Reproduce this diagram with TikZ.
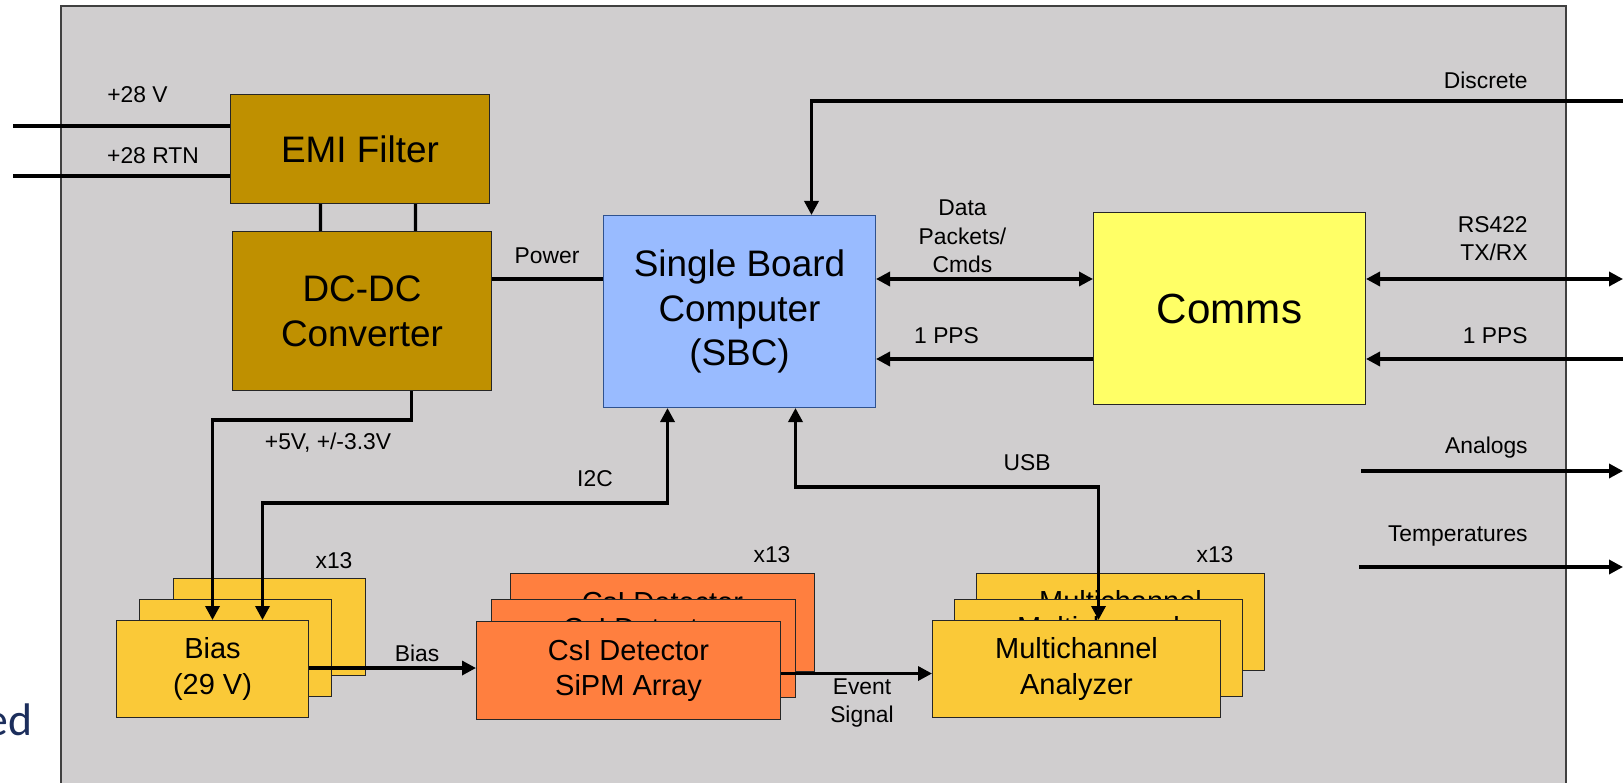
\documentclass[tikz,border=0pt]{standalone}
\usepackage{fontspec}
\setmainfont{Liberation Sans}
\newfontfamily\slidefont{Carlito}
\usetikzlibrary{arrows.meta,positioning}

\definecolor{panelgray}{RGB}{208,206,207}
\definecolor{emigold}{RGB}{191,144,0}
\definecolor{sbcblue}{RGB}{153,187,255}
\definecolor{sbcedge}{RGB}{47,82,143}
\definecolor{commsyellow}{RGB}{255,255,102}
\definecolor{biasyellow}{RGB}{250,201,56}
\definecolor{csiorange}{RGB}{255,127,63}
\definecolor{slideblue}{RGB}{28,46,92}

\begin{document}
\begin{tikzpicture}[x=0.02cm, y=-0.02cm]
    % Styles
    \tikzstyle{block} = [rectangle, draw=black!85, line width=0.6pt, inner sep=0pt, align=center, anchor=north west]
    \tikzstyle{big_text} = [font=\fontsize{21}{25.5}\selectfont]
    \tikzstyle{mid_text} = [font=\fontsize{16.5}{20}\selectfont]
    \tikzstyle{label_text} = [inner sep=0pt, align=center, font=\fontsize{13}{16.2}\selectfont]
    \tikzstyle{power_block} = [block, big_text, fill=emigold, minimum width=5.18cm]
    \tikzstyle{bias_block} = [block, mid_text, fill=biasyellow, minimum width=3.84cm, minimum height=1.94cm]
    \tikzstyle{csi_block} = [block, mid_text, fill=csiorange, minimum width=6.08cm, minimum height=1.96cm]
    \tikzstyle{mca_block} = [block, mid_text, fill=biasyellow, minimum width=5.76cm, minimum height=1.94cm]
    \tikzstyle{wire} = [line width=1.9pt]
    \tikzstyle{arrow} = [wire, -{Triangle[length=0.28cm, width=0.28cm]}]
    \tikzstyle{biarrow} = [wire, {Triangle[length=0.28cm, width=0.28cm]}-{Triangle[length=0.28cm, width=0.28cm]}]

    \useasboundingbox (0,0) rectangle (1623,783);

    % Enclosure
    \fill[panelgray] (61,6) rectangle (1566,790);
    \draw[line width=0.8pt, black!75] (61,790) -- (61,6) -- (1566,6) -- (1566,790);
    \node[anchor=base east, inner sep=0pt, text=slideblue, font=\slidefont\fontsize{26}{30}\selectfont] (slide_frag) at (33,735) {ed};

    % Power chain
    \node[power_block, minimum height=2.18cm] (emi) at (230,94) {EMI Filter};
    \node[power_block, minimum height=3.18cm] (dcdc) at (232,231) {DC-DC\\Converter};

    % Processing
    \node[block, big_text, fill=sbcblue, draw=sbcedge, minimum width=5.44cm, minimum height=3.84cm] (sbc) at (603,215) {Single Board\\Computer\\(SBC)};
    \node[block, fill=commsyellow, minimum width=5.44cm, minimum height=3.84cm, font=\fontsize{24}{28}\selectfont] (comms) at (1093,212) {Comms};

    % Bias stack
    \node[bias_block] (bias3) at (173,578) {};
    \node[bias_block] (bias2) at (139,599) {};
    \node[bias_block] (bias1) at (116,620) {Bias\\(29 V)};

    % Detector stack
    \node[csi_block] (csi3) at (510,573) {CsI Detector\\SiPM Array};
    \node[csi_block] (csi2) at (491,599) {CsI Detector\\SiPM Array};
    \node[csi_block] (csi1) at (476,621) {CsI Detector\\SiPM Array};

    % Analyzer stack
    \node[mca_block] (mca3) at (976,573) {Multichannel\\Analyzer};
    \node[mca_block] (mca2) at (954,599) {Multichannel\\Analyzer};
    \node[mca_block] (mca1) at (932,620) {Multichannel\\Analyzer};

    % Free ends
    \coordinate (in28v) at (13,126);
    \coordinate (in28rtn) at (13,176);
    \coordinate (pwrrow) at (0,279);
    \coordinate (ppsrow) at (0,359);
    \coordinate (discout) at (1623,101);
    \coordinate (rsout) at (1623,279);
    \coordinate (ppsout) at (1623,359);
    \coordinate (anin) at (1361,471);
    \coordinate (anout) at (1623,471);
    \coordinate (tempin) at (1359,567);
    \coordinate (tempout) at (1623,567);

    % Connections
    \draw[wire] (in28v) -- (in28v -| emi.west);
    \draw[wire] (in28rtn) -- (in28rtn -| emi.west);
    \draw[wire] ([xshift=-0.79cm]emi.south) -- ([xshift=-0.83cm]dcdc.north);
    \draw[wire] ([xshift=1.11cm]emi.south) -- ([xshift=1.07cm]dcdc.north);
    \draw[wire] (dcdc.east |- pwrrow) -- (sbc.west |- pwrrow);
    \draw[arrow] ([xshift=0.99cm]dcdc.south) -- ++(0,29) -| (bias1.north);
    \draw[biarrow] ([xshift=1cm]bias1.north) -- ++(0,-117) -| ([xshift=-1.44cm]sbc.south);
    \draw[biarrow] ([xshift=0.44cm]mca1.north) -- ++(0,-133) -| ([xshift=1.12cm]sbc.south);
    \draw[arrow] (discout) -| ([xshift=1.44cm]sbc.north);
    \draw[biarrow] (sbc.east |- pwrrow) -- (comms.west |- pwrrow);
    \draw[arrow] (comms.west |- ppsrow) -- (sbc.east |- ppsrow);
    \draw[biarrow] (comms.east |- rsout) -- (rsout);
    \draw[arrow] (ppsout) -- (comms.east |- ppsout);
    \draw[arrow] (anin) -- (anout);
    \draw[arrow] (tempin) -- (tempout);
    \draw[arrow] ([yshift=0.02cm]bias1.east) -- ([yshift=0.02cm]bias1.east -| csi1.west);
    \draw[arrow] ([yshift=-0.06cm]csi1.east) -- ([yshift=-0.06cm]csi1.east -| mca1.west);

    % Labels
    \node[label_text] (l28v) at (137.5,95) {+28 V};
    \node[label_text] (l28rtn) at (153,156) {+28 RTN};
    \node[label_text] (lpower) at (547,256) {Power};
    \node[label_text] (lvolts) at (328,443) {+5V, +/-3.3V};
    \node[label_text] (li2c) at (595,479) {I2C};
    \node[label_text] (lusb) at (1027,463) {USB};
    \node[label_text] (ldata) at (962.5,236.5) {Data\\Packets/\\Cmds};
    \node[label_text] (lpps) at (946.6,336) {1 PPS};
    \node[label_text, anchor=east] (ldisc) at (1528,80) {Discrete};
    \node[label_text, anchor=east, align=right] (lrs) at (1528,238.5) {RS422\\TX/RX};
    \node[label_text, anchor=east] (lppsout) at (1528,336) {1 PPS};
    \node[label_text, anchor=east] (lan) at (1528,448) {Analogs};
    \node[label_text, anchor=east] (ltemp) at (1528,536) {Temperatures};
    \node[label_text] (lbias) at (417,653) {Bias};
    \node[label_text] (levent) at (862,703) {Event\\Signal};
    \node[label_text] (nbias) at (334,561) {x13};
    \node[label_text] (ncsi) at (772,555) {x13};
    \node[label_text] (nmca) at (1215,555) {x13};

\end{tikzpicture}
\end{document}
